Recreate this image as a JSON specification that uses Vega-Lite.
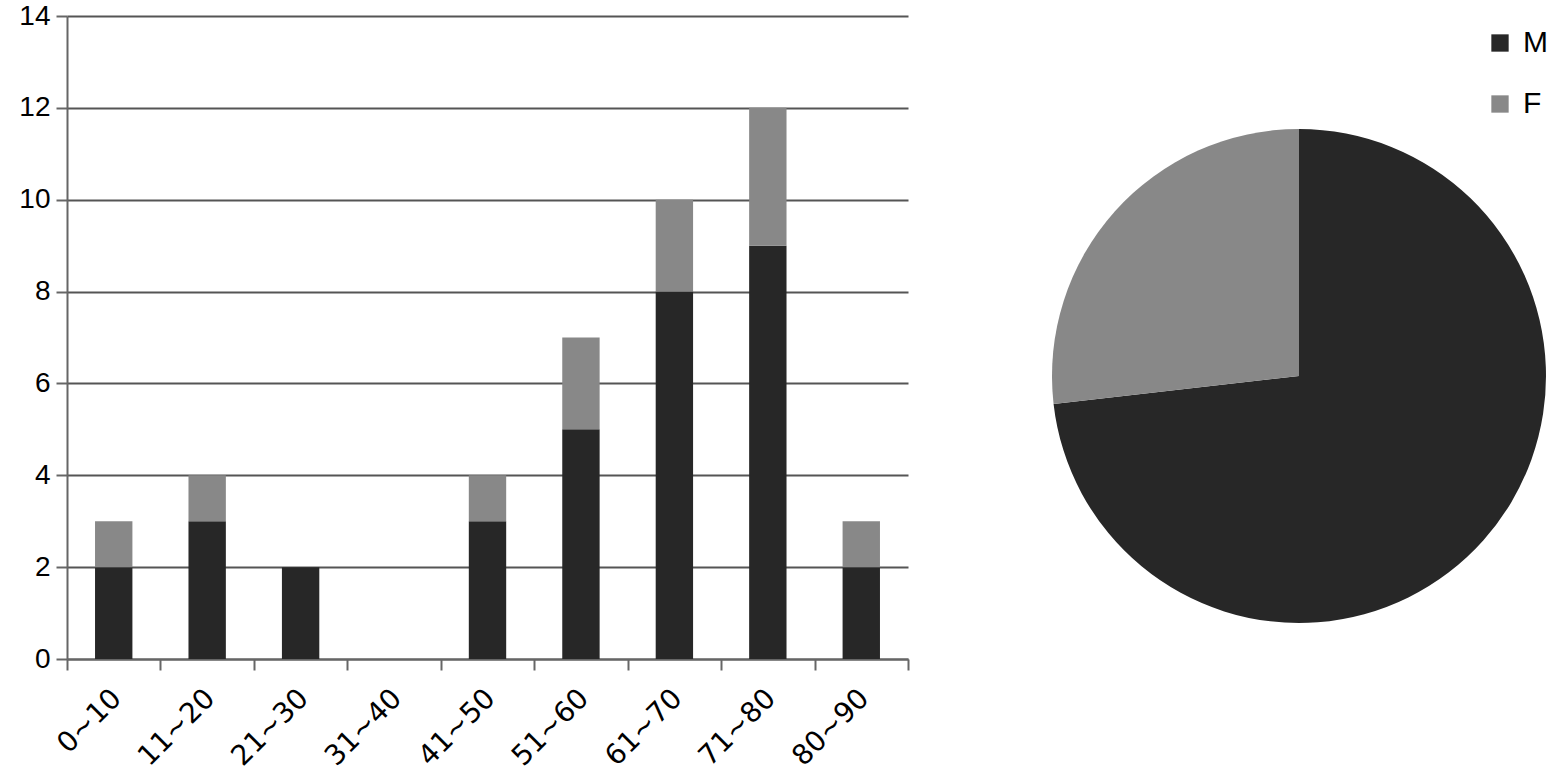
{
  "$schema": "https://vega.github.io/schema/vega-lite/v6.json",
  "padding": {"left": 18, "top": 2, "right": 0, "bottom": 0},
  "background": "white",
  "config": {
    "view": {"stroke": null},
    "font": "Liberation Sans",
    "concat": {"spacing": 143}
  },
  "datasets": {
    "bars": [
      {"age": "0~10", "sex": "M", "n": 2}, {"age": "0~10", "sex": "F", "n": 1},
      {"age": "11~20", "sex": "M", "n": 3}, {"age": "11~20", "sex": "F", "n": 1},
      {"age": "21~30", "sex": "M", "n": 2}, {"age": "21~30", "sex": "F", "n": 0},
      {"age": "31~40", "sex": "M", "n": 0}, {"age": "31~40", "sex": "F", "n": 0},
      {"age": "41~50", "sex": "M", "n": 3}, {"age": "41~50", "sex": "F", "n": 1},
      {"age": "51~60", "sex": "M", "n": 5}, {"age": "51~60", "sex": "F", "n": 2},
      {"age": "61~70", "sex": "M", "n": 8}, {"age": "61~70", "sex": "F", "n": 2},
      {"age": "71~80", "sex": "M", "n": 9}, {"age": "71~80", "sex": "F", "n": 3},
      {"age": "80~90", "sex": "M", "n": 2}, {"age": "80~90", "sex": "F", "n": 1}
    ],
    "pie": [
      {"sex": "M", "share": 73.2},
      {"sex": "F", "share": 26.8}
    ]
  },
  "resolve": {"legend": {"color": "independent"}},
  "hconcat": [
    {
      "width": 841,
      "height": 643,
      "data": {"name": "bars"},
      "mark": {"type": "bar", "width": {"band": 0.4}},
      "encoding": {
        "x": {
          "field": "age", "type": "nominal", "sort": null,
          "scale": {"paddingInner": 0, "paddingOuter": 0},
          "axis": {
            "title": null, "labelAngle": -45, "labelAlign": "right", "labelBaseline": "middle",
            "labelFont": "DejaVu Sans", "labelFontSize": 28, "labelColor": "#000",
            "labelPadding": 24, "labelOffset": 3,
            "tickBand": "extent", "tickSize": 11, "tickWidth": 2, "tickColor": "#666",
            "domainColor": "#666", "domainWidth": 2, "grid": false
          }
        },
        "y": {
          "field": "n", "type": "quantitative", "aggregate": "sum", "stack": "zero",
          "scale": {"domain": [0, 14]},
          "axis": {
            "title": null, "values": [0, 2, 4, 6, 8, 10, 12, 14],
            "labelFontSize": 28, "labelColor": "#000", "labelPadding": 6,
            "tickSize": 11, "tickWidth": 2, "tickColor": "#666",
            "domainColor": "#666", "domainWidth": 2,
            "gridColor": "#555", "gridWidth": 2, "gridOpacity": 1
          }
        },
        "color": {
          "field": "sex", "type": "nominal",
          "scale": {"domain": ["M", "F"], "range": ["#272727", "#888888"]},
          "legend": null
        },
        "order": {"field": "sex", "sort": "descending"}
      }
    },
    {
      "width": 494,
      "height": 720,
      "data": {"name": "pie"},
      "mark": {"type": "arc", "radius": 247},
      "encoding": {
        "theta": {"field": "share", "type": "quantitative", "stack": true},
        "color": {
          "field": "sex", "type": "nominal",
          "scale": {"domain": ["M", "F"], "range": ["#272727", "#888888"]},
          "legend": {
            "title": null, "orient": "none", "legendX": 433, "legendY": 12,
            "symbolType": "square", "symbolSize": 300, "symbolStrokeWidth": 0,
            "labelFontSize": 30, "labelColor": "#000", "rowPadding": 31, "labelOffset": 8
          }
        },
        "order": {"field": "sex", "sort": "descending"}
      }
    }
  ]
}
